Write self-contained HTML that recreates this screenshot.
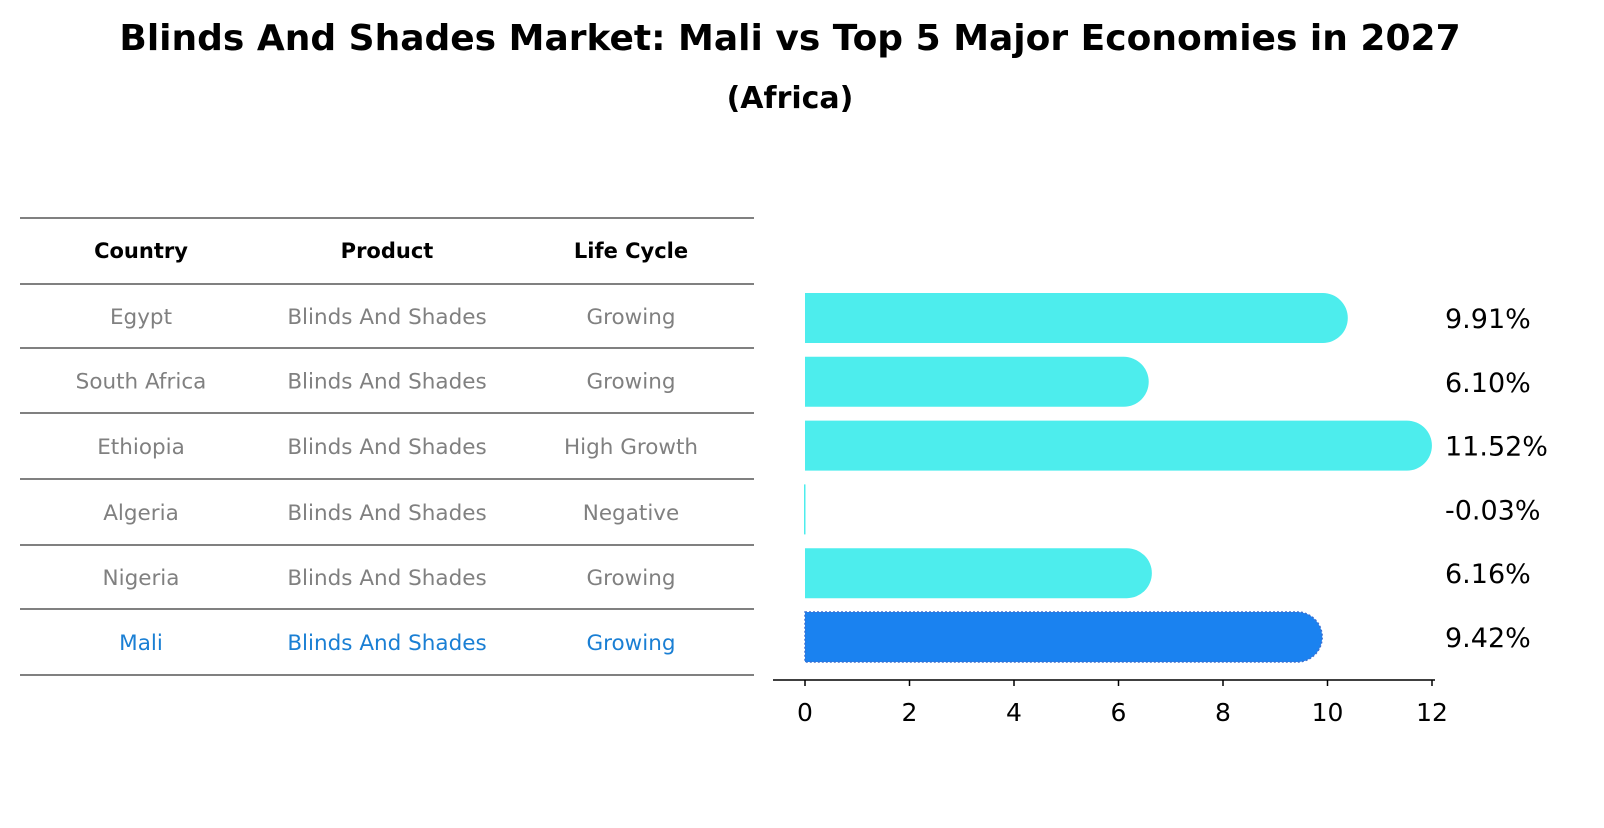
<!DOCTYPE html>
<html><head><meta charset="utf-8"><style>
body{margin:0;background:#fff;font-family:"Liberation Sans","DejaVu Sans",sans-serif}
</style></head><body>
<svg width="1604" height="823" viewBox="0 0 1604 823" xmlns="http://www.w3.org/2000/svg" font-family="DejaVu Sans, Liberation Sans, sans-serif">
<text x="790" y="50" text-anchor="middle" font-size="36" font-weight="bold">Blinds And Shades Market: Mali vs Top 5 Major Economies in 2027</text>
<text x="790" y="108" text-anchor="middle" font-size="30" font-weight="bold">(Africa)</text>
<g id="table"></g>
<g id="bars"></g>
</svg>
<script>
const countries=["Egypt","South Africa","Ethiopia","Algeria","Nigeria","Mali"];
const products=["Blinds And Shades","Blinds And Shades","Blinds And Shades","Blinds And Shades","Blinds And Shades","Blinds And Shades"];
const lifeCycles=["Growing","Growing","High Growth","Negative","Growing","Growing"];
const values=[9.91,6.10,11.52,-0.03,6.16,9.42];
const labels=["9.91%","6.10%","11.52%","-0.03%","6.16%","9.42%"];
const ticks=[0,2,4,6,8,10,12];
const NS="http://www.w3.org/2000/svg";
function mk(t,a,p){const e=document.createElementNS(NS,t);for(const k in a)e.setAttribute(k,a[k]);p.appendChild(e);return e;}
const tb=document.getElementById('table');
const lineYs=[218,284,348,413,479,545,609,675];
lineYs.forEach(y=>{const l=mk('line',{x1:20,x2:754,y1:y,y2:y,stroke:'#000','stroke-width':1},tb);

});
const colX=[141,387,631];
["Country","Product","Life Cycle"].forEach((h,i)=>{const t=mk('text',{x:colX[i],y:258,'text-anchor':'middle','font-size':21,'font-weight':'bold'},tb);t.textContent=h;

});
countries.forEach((c,r)=>{const y=(lineYs[r+1]+lineYs[r+2])/2+8;const col=c==="Mali"?"#1a7fd4":"#808080";
[c,products[r],lifeCycles[r]].forEach((v,i)=>{const t=mk('text',{x:colX[i],y:y,'text-anchor':'middle','font-size':21.5,fill:col},tb);t.textContent=v;

});});
const bg=document.getElementById('bars');
const x=v=>805+v*52.25;
const yc=i=>318+i*63.8;
const h=50,r=25;
values.forEach((v,i)=>{const isMali=countries[i]==="Mali";const fill=isMali?"#1a82f0":"#4deded";
const y0=yc(i)-h/2;let el;
if(v<=0){el=mk('rect',{x:x(0)-1,y:y0,width:1.5,height:h,fill:fill},bg);}
else{const xe=x(v);el=mk('path',{d:`M${x(0)},${y0} H${xe} A${r},${r} 0 0 1 ${xe},${y0+h} H${x(0)} Z`,fill:fill},bg);
if(isMali){el.setAttribute('stroke','#3b6fd0');el.setAttribute('stroke-dasharray','2,2');el.setAttribute('stroke-width','1.5');}}


const t=mk('text',{x:1445,y:yc(i)+10,'font-size':27},bg);t.textContent=labels[i];

});
const ax=mk('line',{x1:773,x2:1435,y1:680,y2:680,stroke:'#000','stroke-width':1.5},bg);


ticks.forEach(tv=>{const tk=mk('line',{x1:x(tv),x2:x(tv),y1:680,y2:686,stroke:'#000','stroke-width':1.5},bg);


const t=mk('text',{x:x(tv),y:721,'text-anchor':'middle','font-size':25},bg);t.textContent=tv;

});
</script>
</body></html>
